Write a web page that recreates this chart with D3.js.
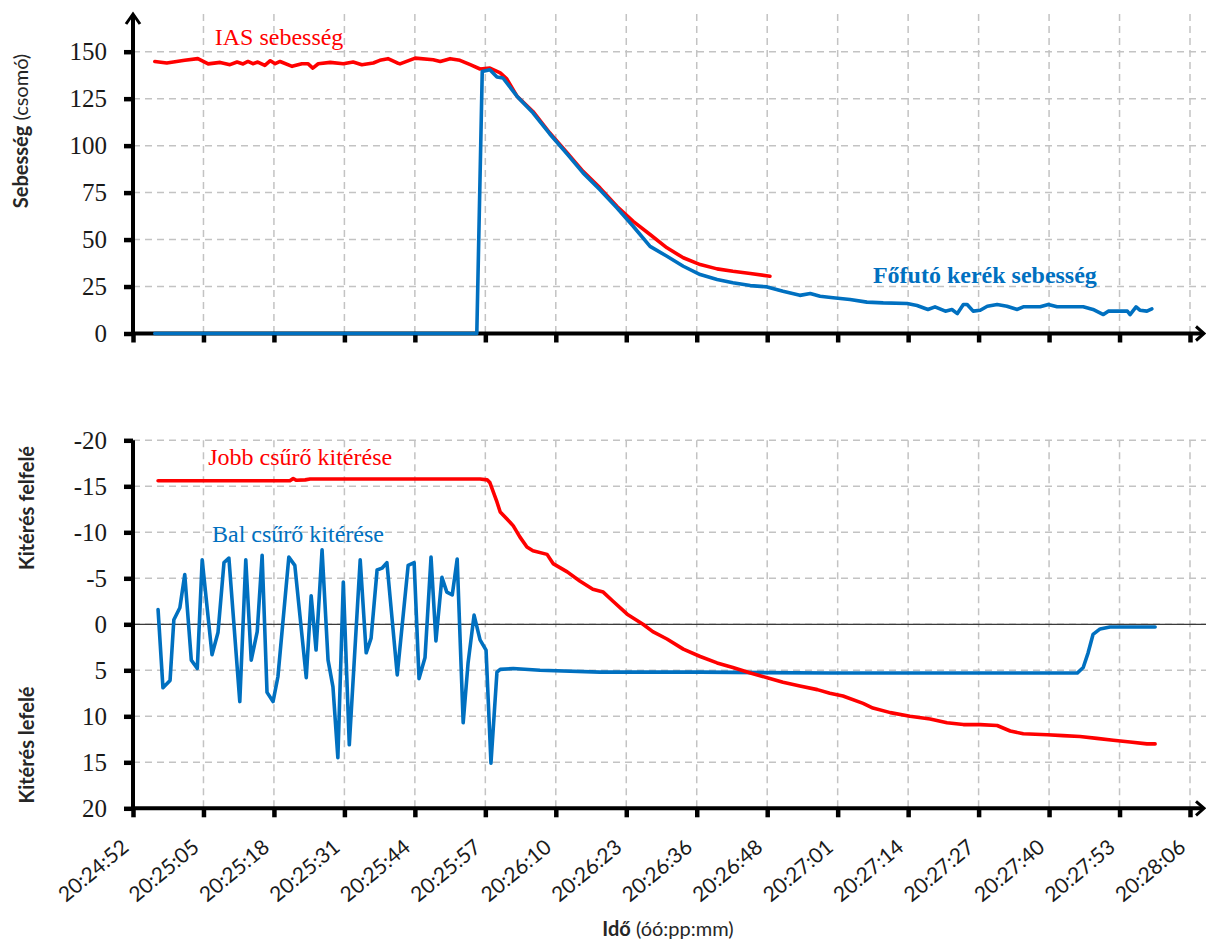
<!DOCTYPE html>
<html>
<head>
<meta charset="utf-8">
<script src="https://cdn.jsdelivr.net/npm/d3@7"></script>
<style>
  body { margin: 0; background: #fff; }
  .grid line { stroke: #c3c3c3; stroke-width: 1.5; stroke-dasharray: 7,5; }
  .axis-title { font-family: Lato, "Open Sans", sans-serif; font-size: 20px; fill: #262626; }
  .series-label { font-family: "Liberation Serif", serif; font-size: 24px; }
  .value-label { font-family: "Liberation Serif", serif; font-size: 25px; fill: #1a1a1a; }
  .time-label { font-family: Lato, "Open Sans", sans-serif; font-size: 21px; fill: #1a1a1a; }
</style>
</head>
<body>
<div id="chart"></div>
<script>
// Time axis: seconds after 20:24:52
const timeSpan = 194;
const tickLabels = ['20:24:52', '20:25:05', '20:25:18', '20:25:31', '20:25:44', '20:25:57', '20:26:10', '20:26:23',
    '20:26:36', '20:26:48', '20:27:01', '20:27:14', '20:27:27', '20:27:40', '20:27:53', '20:28:06'];
const speedTicks = [0, 25, 50, 75, 100, 125, 150];
const deflectionTicks = [-20, -15, -10, -5, 0, 5, 10, 15, 20];

// IAS sebesség [s, csomó]
const iasSpeed = [[4.0,144.8],[6.2,144.0],[9.5,145.4],[11.9,146.3],[13.8,143.5],[16.0,144.3],[17.8,143.1],[19.1,144.5],
    [20.2,143.5],[21.1,144.8],[22.0,143.6],[22.9,144.5],[24.2,142.7],[25.2,145.2],[26.1,143.6],[27.0,144.8],[29.2,142.2],
    [31.0,143.6],[32.1,143.6],[33.0,141.3],[34.0,143.6],[36.2,144.3],[38.6,143.6],[40.4,144.5],[42.0,143.1],[44.1,144.0],
    [45.3,145.4],[46.8,146.3],[48.5,144.0],[49.0,143.5],[51.8,146.6],[55.1,145.7],[56.4,144.8],[58.2,146.3],[60.0,145.4],
    [61.9,143.1],[63.7,140.8],[65.5,141.3],[67.4,138.7],[68.6,135.5],[70.5,126.2],[73.4,118.2],[76.5,106.7],[79.7,96.1],
    [82.6,86.3],[85.7,77.5],[88.8,67.7],[91.8,59.7],[94.9,52.7],[98.0,45.6],[101.0,40.3],[104.1,36.7],[107.2,34.4],
    [110.1,33.1],[113.3,31.9],[116.9,30.5]];

// Főfutó kerék sebesség [s, csomó]
const wheelSpeed = [[4.0,0],[63.1,0],[64.1,139.4],[65.5,140.4],[66.8,136.5],[67.9,136.0],[70.5,126.2],[73.4,117.5],
    [76.5,106.2],[79.7,95.5],[82.6,85.5],[85.7,76.5],[88.8,66.9],[91.8,57.1],[94.9,46.4],[98.0,41.1],[101.0,35.8],
    [104.1,31.4],[107.2,28.7],[110.1,27.0],[113.3,25.5],[116.4,24.8],[119.3,22.5],[122.4,20.3],[124.3,21.3],[126.1,19.8],
    [128.5,19.0],[131.6,18.1],[134.7,16.7],[137.7,16.3],[142.1,16.0],[143.9,14.9],[145.9,12.8],[147.2,14.2],[149.1,11.9],
    [150.3,12.8],[151.3,10.6],[152.4,15.4],[153.1,15.4],[154.2,11.9],[155.5,12.4],[156.8,14.5],[158.6,15.4],[160.4,14.5],
    [162.3,12.8],[163.4,14.2],[166.5,14.2],[168.0,15.4],[169.6,14.2],[174.4,14.2],[176.2,12.8],[178.1,10.1],[179.0,11.9],
    [182.5,11.9],[183.0,10.1],[184.1,14.2],[184.8,12.4],[186.1,11.9],[187.0,13.1]];

// Jobb csűrő kitérése [s, fok]
const rightAileron = [[4.6,-15.6],[28.8,-15.6],[29.4,-15.85],[30.0,-15.65],[31.6,-15.7],[32.5,-15.8],[63.7,-15.8],
    [65.0,-15.7],[65.5,-15.4],[66.8,-13.3],[67.4,-12.2],[69.2,-11.1],[69.8,-10.7],[71.0,-9.5],[72.3,-8.4],[73.4,-8.0],
    [76.0,-7.6],[77.1,-6.6],[79.7,-5.7],[82.0,-4.7],[84.4,-3.8],[86.3,-3.5],[88.1,-2.5],[90.7,-1.1],[93.6,0],[95.4,0.8],
    [98.0,1.6],[101.0,2.7],[104.1,3.5],[107.2,4.2],[110.1,4.7],[113.3,5.3],[116.4,5.8],[119.3,6.3],[122.4,6.7],[125.6,7.1],
    [127.9,7.5],[130.3,7.8],[134.0,8.6],[135.8,9.1],[139.0,9.6],[142.6,10.0],[146.3,10.3],[149.4,10.7],[152.4,10.9],
    [155.5,10.9],[158.6,11.0],[161.0,11.6],[163.4,11.9],[167.8,12.0],[170.7,12.1],[173.8,12.2],[176.9,12.4],[179.9,12.6],
    [183.0,12.8],[186.1,13.0],[187.6,13.0]];

// Bal csűrő kitérése [s, fok]
const leftAileron = [[4.6,-1.6],[5.5,6.9],[6.8,6.1],[7.5,-0.5],[8.6,-1.8],[9.5,-5.4],[10.7,3.9],[11.8,4.8],[12.7,-7.0],
    [14.5,3.3],[15.6,0.9],[16.7,-6.7],[17.6,-7.2],[19.6,8.4],[20.7,-7.0],[21.7,3.9],[22.8,0.8],[23.7,-7.5],[24.6,7.4],
    [25.7,8.4],[26.6,5.7],[28.6,-7.3],[29.7,-6.4],[31.8,5.8],[32.7,-3.1],[33.6,2.8],[34.7,-8.1],[35.8,3.9],[36.7,6.8],
    [37.6,14.5],[38.6,-4.6],[39.7,13.1],[41.7,-7.0],[42.8,3.1],[43.7,1.5],[44.8,-5.9],[45.7,-6.1],[46.6,-6.7],[48.5,5.5],
    [50.5,-6.4],[51.6,-6.7],[52.5,5.9],[53.6,3.6],[54.7,-7.3],[55.6,1.8],[56.7,-5.1],[57.6,-3.5],[58.6,-3.2],[59.5,-7.1],
    [60.6,10.7],[61.5,4.2],[62.6,-1.0],[63.7,1.7],[64.8,2.8],[65.7,15.1],[66.8,5.2],[67.4,4.9],[69.8,4.8],[74.7,5.0],
    [85.7,5.2],[104.1,5.2],[127.9,5.3],[173.3,5.3],[174.4,4.7],[175.3,3.1],[176.2,1.1],[177.5,0.5],[179.3,0.3],[187.6,0.3]];

const RED = '#ff0000';
const BLUE = '#0070c0';

class TimePanel {
    constructor(_config, _svg, _xScale) {
        this.config = _config;
        this.svg = _svg;
        this.xScale = _xScale;
        this.initVis();
    }

    initVis() {
        let vis = this;
        const cfg = vis.config;
        vis.yScale = d3.scaleLinear().domain(cfg.yDomain).range(cfg.yRange);
        vis.tickPos = d3.range(tickLabels.length).map(i => i * timeSpan / (tickLabels.length - 1));
        vis.baseY = vis.yScale(cfg.baseValue);
        vis.x0 = vis.xScale(0);
        vis.g = vis.svg.append('g');
        vis.renderVis();
    }

    renderVis() {
        let vis = this;
        const cfg = vis.config;
        const x = vis.xScale, y = vis.yScale;

        // Dashed grid
        const grid = vis.g.append('g').attr('class', 'grid');
        grid.selectAll('.hgrid')
            .data(cfg.yTicks.filter(d => d !== cfg.baseValue))
            .join('line')
            .attr('x1', vis.x0).attr('x2', 1206)
            .attr('y1', d => y(d)).attr('y2', d => y(d));
        grid.selectAll('.vgrid')
            .data(vis.tickPos.slice(1))
            .join('line')
            .attr('x1', d => x(d)).attr('x2', d => x(d))
            .attr('y1', cfg.gridTop).attr('y2', vis.baseY);

        if (cfg.zeroLine) {
            vis.g.append('line')
                .attr('x1', vis.x0).attr('x2', 1206)
                .attr('y1', y(0)).attr('y2', y(0))
                .attr('stroke', '#3a3a3a').attr('stroke-width', 1.2);
        }

        // Y axis: tick marks from d3, labels in serif
        const yAxis = vis.g.append('g')
            .attr('transform', `translate(${vis.x0},0)`)
            .call(d3.axisLeft(y).tickValues(cfg.yTicks).tickSize(9).tickSizeOuter(0).tickFormat(''));
        yAxis.select('.domain').remove();
        yAxis.selectAll('.tick line').attr('stroke', '#000').attr('stroke-width', 4.5);
        vis.g.selectAll('.value-label')
            .data(cfg.yTicks)
            .join('text')
            .attr('class', 'value-label')
            .attr('text-anchor', 'end')
            .attr('x', vis.x0 - 26)
            .attr('y', d => y(d))
            .attr('dy', '0.33em')
            .text(d => String(d));

        // X axis
        const xAxis = vis.g.append('g')
            .attr('transform', `translate(0,${vis.baseY})`)
            .call(d3.axisBottom(x).tickValues(vis.tickPos).tickSize(9).tickSizeOuter(0).tickFormat(''));
        xAxis.select('.domain').remove();
        xAxis.selectAll('.tick line').attr('stroke', '#000').attr('stroke-width', 4.5);
        if (cfg.timeLabels) {
            vis.g.selectAll('.time-label')
                .data(vis.tickPos)
                .join('text')
                .attr('class', 'time-label')
                .attr('text-anchor', 'end')
                .attr('transform', d => `translate(${x(d) - 3},${vis.baseY + 41}) rotate(-40)`)
                .text((d, i) => tickLabels[i]);
        }

        // Axis lines with arrows
        const axisTop = cfg.arrowTop ? 15 : cfg.yRange[0];
        vis.g.append('line')
            .attr('x1', vis.x0).attr('x2', vis.x0)
            .attr('y1', vis.baseY + 2).attr('y2', axisTop)
            .attr('stroke', '#000').attr('stroke-width', 4);
        vis.g.append('line')
            .attr('x1', vis.x0 - 2).attr('x2', 1203)
            .attr('y1', vis.baseY).attr('y2', vis.baseY)
            .attr('stroke', '#000').attr('stroke-width', 4);
        vis.g.append('path')
            .attr('d', `M${1196},${vis.baseY - 7}L${1204},${vis.baseY}L${1196},${vis.baseY + 7}`)
            .attr('fill', 'none').attr('stroke', '#000').attr('stroke-width', 3);
        if (cfg.arrowTop) {
            vis.g.append('path')
                .attr('d', `M${vis.x0 - 7},${axisTop + 9}L${vis.x0},${axisTop - 1}L${vis.x0 + 7},${axisTop + 9}`)
                .attr('fill', 'none').attr('stroke', '#000').attr('stroke-width', 3);
        }

        // Series (drawn over the axis line, as in the original)
        const line = d3.line().x(d => x(d[0])).y(d => y(d[1]));
        vis.g.selectAll('.series')
            .data(cfg.series)
            .join('path')
            .attr('class', 'series')
            .attr('d', d => line(d.values))
            .attr('fill', 'none')
            .attr('stroke', d => d.color)
            .attr('stroke-width', 3.6)
            .attr('stroke-linejoin', 'round')
            .attr('stroke-linecap', 'round');

        // Series labels
        vis.g.selectAll('.series-label')
            .data(cfg.series)
            .join('text')
            .attr('class', 'series-label')
            .attr('x', d => x(d.label[0]))
            .attr('y', d => y(d.label[1]))
            .attr('fill', d => d.color)
            .attr('font-weight', d => d.bold ? 700 : 400)
            .text(d => d.name);

        // Axis titles
        cfg.titles.forEach(t => {
            const txt = vis.svg.append('text')
                .attr('class', 'axis-title')
                .attr('text-anchor', 'middle')
                .attr('transform', `translate(${t.x},${t.y}) rotate(-90)`);
            t.parts.forEach(p => txt.append('tspan').attr('font-weight', p[1]).text(p[0]));
        });
    }
}

const svg = d3.select('#chart').append('svg')
    .attr('width', 1206)
    .attr('height', 939);

const xScale = d3.scaleLinear().domain([0, timeSpan]).range([133, 1190]);

new TimePanel({
    yDomain: [0, 150], yRange: [333.5, 51.7], yTicks: speedTicks, baseValue: 0,
    gridTop: 14, arrowTop: true, timeLabels: false, zeroLine: false,
    series: [
        {name: 'IAS sebesség', values: iasSpeed, color: RED, label: [15.0, 153.6], bold: false},
        {name: 'Főfutó kerék sebesség', values: wheelSpeed, color: BLUE, label: [135.8, 26.9], bold: true}
    ],
    titles: [{x: 28, y: 131, parts: [['Sebesség', 700], [' (csomó)', 400]]}]
}, svg, xScale);

new TimePanel({
    yDomain: [-20, 20], yRange: [440.3, 808.3], yTicks: deflectionTicks, baseValue: 20,
    gridTop: 440.3, arrowTop: false, timeLabels: true, zeroLine: true,
    series: [
        {name: 'Bal csűrő kitérése', values: leftAileron, color: BLUE, label: [14.5, -8.95], bold: false},
        {name: 'Jobb csűrő kitérése', values: rightAileron, color: RED, label: [13.8, -17.3], bold: false}
    ],
    titles: [
        {x: 34, y: 508, parts: [['Kitérés felfelé', 700]]},
        {x: 34, y: 745, parts: [['Kitérés lefelé', 700]]}
    ]
}, svg, xScale);

// X axis title
const xTitle = svg.append('text')
    .attr('class', 'axis-title')
    .attr('text-anchor', 'middle')
    .attr('x', 668)
    .attr('y', 936);
xTitle.append('tspan').attr('font-weight', 700).text('Idő');
xTitle.append('tspan').attr('font-weight', 400).text(' (óó:pp:mm)');
</script>
</body>
</html>
